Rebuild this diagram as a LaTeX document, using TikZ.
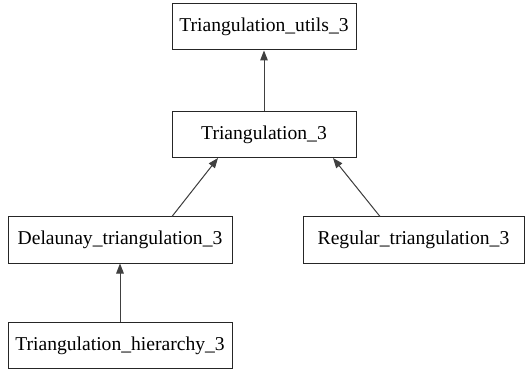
\documentclass[tikz,border=0pt]{standalone}
\usepackage{fontspec}
\setmainfont{Liberation Serif}
\usetikzlibrary{arrows.meta}
\newcommand{\widthmid}{92pt}
\newcommand{\widthside}{112pt}
\tikzset{
    cls/.style={draw=black!85, rectangle, line width=0.5pt, minimum height=23pt, inner sep=0pt,
        font=\fontsize{9.8}{11}\selectfont},
    mid/.style={cls, minimum width=\widthmid},
    side/.style={cls, minimum width=\widthside},
    inherit/.style={-{Triangle[length=5pt, width=3.8pt]}, line width=0.5pt, draw=black!75, fill=black}
}
\begin{document}
\begin{tikzpicture}[x=0.5pt, y=-0.5pt]
        \useasboundingbox (0,0) rectangle (528,373);
        \path
            (264,27) node[mid] (utils) {Triangulation\_utils\_3}
            ++(0,107.5) node[mid] (tri) {Triangulation\_3};

        \path
            (120,240) node[side] (delaunay) {Delaunay\_triangulation\_3}
            ++(0,105.5) node[side] (hierarchy) {Triangulation\_hierarchy\_3};

        \path
            (413.5,240) node[cls, minimum width=110.5pt] (regular) {Regular\_triangulation\_3};

        \draw[inherit] (tri) -- (utils);
        \draw[inherit] (hierarchy) -- (delaunay);
        \draw[inherit] ([xshift=26pt]delaunay.north) -- ([xshift=-23pt]tri.south);
        \draw[inherit] ([xshift=-16.75pt]regular.north) -- ([xshift=34.5pt]tri.south);
    \end{tikzpicture}
\end{document}
